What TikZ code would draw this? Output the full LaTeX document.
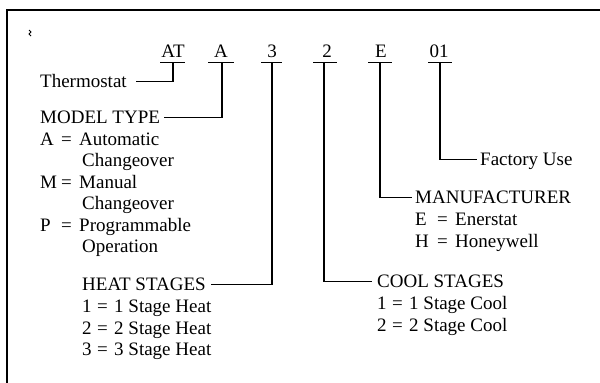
\documentclass[tikz,border=0pt]{standalone}
\usepackage{fontspec}
\setmainfont{Liberation Serif}
\newcommand{\kv}[5]{\makebox[#1pt][l]{#3}\makebox[#2pt][l]{#4}#5}
\begin{document}
\begin{tikzpicture}[x=1pt,y=-1pt,
  lbl/.style={inner sep=0pt,anchor=base west,text height=14pt,text depth=3pt,font=\fontsize{19}{21}\selectfont},
  code/.style={inner sep=0pt,anchor=base,font=\fontsize{19}{21}\selectfont},
  conn/.style={line width=1.3pt},
  uline/.style={line width=0.9pt},
  frame/.style={line width=1.4pt}]
\useasboundingbox (0,0) rectangle (600,383);
% frame (top and left only)
\draw[frame] (600,10) -- (7,10) -- (7,383);
% stray mark
\draw[line width=0.8pt] (29,30) -- (31,32) -- (29,34) -- (31,36);
% code letters
\node[code] (cAT) at (173,57) {AT};
\node[code] (cA)  at (221,57) {A};
\node[code] (c3)  at (272,57) {3};
\node[code] (c2)  at (327,57) {2};
\node[code] (cE)  at (381,57) {E};
\node[code] (c01) at (439,57) {01};
% underline midpoints
\coordinate (uAT) at (173,62);
\coordinate (uA)  at (222,62);
\coordinate (u3)  at (272,62);
\coordinate (u2)  at (324,62);
\coordinate (uE)  at (380,62);
\coordinate (u01) at (440,62);
\foreach \u/\a/\b in {uAT/13/12, uA/14/12, u3/11/10, u2/11/13, uE/12/12, u01/12/12}
  \draw[uline] ([xshift=-\a pt]\u) -- ([xshift=\b pt]\u);
% left labels
\node[lbl] (thermo) at (40,87) {Thermostat};
\node[lbl] (model) at (40,123) {MODEL TYPE};
\node[lbl] (mA) at (40,145) {\kv{21}{18}{A}{=}{Automatic}};
\node[lbl] (mA2) at (82,166) {Changeover};
\node[lbl] (mM) at (40,188) {\kv{21}{18}{M}{=}{Manual}};
\node[lbl] (mM2) at (82,209) {Changeover};
\node[lbl] (mP) at (40,231) {\kv{21}{18}{P}{=}{Programmable}};
\node[lbl] (mP2) at (82,252) {Operation};
\node[lbl] (heat) at (82,290) {HEAT STAGES};
\node[lbl] (h1) at (82,312) {\kv{15}{17}{1}{=}{1 Stage Heat}};
\node[lbl] (h2) at (82,334) {\kv{15}{17}{2}{=}{2 Stage Heat}};
\node[lbl] (h3) at (82,355) {\kv{15}{17}{3}{=}{3 Stage Heat}};
% right labels
\node[lbl] (fact) at (480,165) {Factory Use};
\node[lbl] (manu) at (415,203) {MANUFACTURER};
\node[lbl] (mfE) at (415,225) {\kv{22}{18}{E}{=}{Enerstat}};
\node[lbl] (mfH) at (415,247) {\kv{22}{18}{H}{=}{Honeywell}};
\node[lbl] (cool) at (377,287) {COOL STAGES};
\node[lbl] (c1) at (377,309) {\kv{15}{17}{1}{=}{1 Stage Cool}};
\node[lbl] (cc2) at (377,331) {\kv{15}{17}{2}{=}{2 Stage Cool}};
% connectors
\draw[conn] (uAT) |- ([xshift=9pt]thermo.east);
\draw[conn] (uA) |- ([xshift=4pt]model.east);
\draw[conn] (u3) |- ([xshift=5pt]heat.east);
\draw[conn] (u2) |- ([xshift=-5pt]cool.west);
\draw[conn] (uE) |- ([xshift=-3pt]manu.west);
\draw[conn] (u01) |- ([xshift=-3pt]fact.west);
\end{tikzpicture}
\end{document}
